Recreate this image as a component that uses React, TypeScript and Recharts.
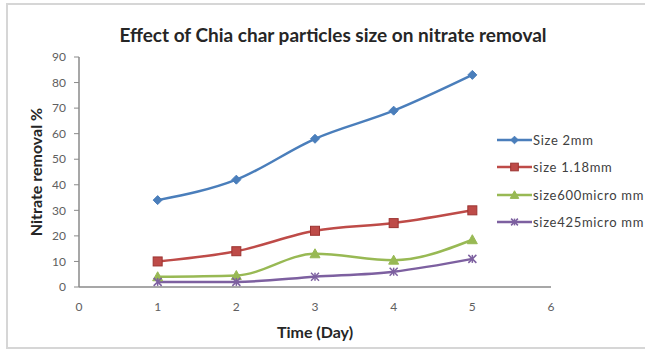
import React from "react";
import { LineChart, Line, XAxis, YAxis, Label } from "recharts";

// Days of the experiment and nitrate removal (%) for each char particle size
const days = [1, 2, 3, 4, 5];
const size2mm = [34, 42, 58, 69, 83];
const size118mm = [10, 14, 22, 25, 30];
const size600micro = [4, 4.5, 13, 10.5, 18.5];
const size425micro = [2, 2, 4, 6, 11];

const xTicks = [0, 1, 2, 3, 4, 5, 6];
const yTicks = [0, 10, 20, 30, 40, 50, 60, 70, 80, 90];

const seriesNames = ["Size 2mm", "size 1.18mm", "size600micro mm", "size425micro mm"];
const seriesColors = ["#4A7EBB", "#BE4B48", "#98B954", "#7D60A0"];
const seriesKeys = ["s2", "s118", "s600", "s425"];
const markerShapes = ["diamond", "square", "triangle", "star"];

const data = days.map((d, i) => ({
  day: d,
  s2: size2mm[i],
  s118: size118mm[i],
  s600: size600micro[i],
  s425: size425micro[i],
}));

const FONT = "Lato, 'Liberation Sans', sans-serif";

function Marker({ shape, cx, cy, color, s = 1 }: { shape: string; cx: number; cy: number; color: string; s?: number }) {
  if (shape === "diamond") {
    const r = 4.5 * s;
    return (
      <polygon
        points={`${cx},${cy - r} ${cx + r},${cy} ${cx},${cy + r} ${cx - r},${cy}`}
        fill={color}
        stroke={color}
        strokeWidth={1}
      />
    );
  }
  if (shape === "square") {
    const r = 4.5 * s;
    return <rect x={cx - r} y={cy - r} width={2 * r} height={2 * r} fill={color} stroke="#9c3330" strokeWidth={1} />;
  }
  if (shape === "triangle") {
    const r = 5 * s;
    return (
      <polygon
        points={`${cx},${cy - r} ${cx + r},${cy + r * 0.8} ${cx - r},${cy + r * 0.8}`}
        fill={color}
        stroke={color}
        strokeWidth={1}
      />
    );
  }
  const r = 4 * s;
  return (
    <g stroke={color} strokeWidth={1.5}>
      <line x1={cx - r} y1={cy - r} x2={cx + r} y2={cy + r} />
      <line x1={cx - r} y1={cy + r} x2={cx + r} y2={cy - r} />
      <line x1={cx} y1={cy - r} x2={cx} y2={cy + r} />
    </g>
  );
}

function makeDot(shape: string, color: string) {
  return (props: any) => {
    const { cx, cy, index } = props;
    if (cx == null || cy == null) return <g key={index} />;
    return (
      <g key={index}>
        <Marker shape={shape} cx={cx} cy={cy} color={color} />
      </g>
    );
  };
}

export default function App() {
  return (
    <div
      style={{
        position: "fixed",
        left: 0,
        top: 0,
        width: 645,
        height: 356,
        background: "#ffffff",
        overflow: "hidden",
        fontFamily: FONT,
      }}
    >
      <div
        style={{
          position: "absolute",
          left: 6,
          top: 3,
          width: 660,
          height: 346,
          border: "2px solid #d6d6d6",
          boxSizing: "border-box",
        }}
      />
      <div
        style={{
          position: "absolute",
          left: 0,
          width: 666,
          top: 23,
          lineHeight: "24px",
          textAlign: "center",
          fontSize: 19,
          fontWeight: 700,
          color: "#262626",
        }}
      >
        Effect of Chia char particles size on nitrate removal
      </div>
      <div style={{ position: "absolute", left: 0, top: 0 }}>
        <LineChart width={645} height={356} data={data} margin={{ top: 57, right: 94, bottom: 0, left: 0 }}>
          <XAxis
            dataKey="day"
            type="number"
            domain={[0, 6]}
            ticks={xTicks}
            interval={0}
            height={69}
            axisLine={{ stroke: "#8a8a8a", strokeWidth: 1.5 }}
            tickLine={false}
            tickSize={0}
            tickMargin={15}
            tick={{ fill: "#606060", fontSize: 12, fontFamily: FONT }}
          >
            <Label
              value="Time (Day)"
              position="center"
              dy={11}
              style={{ fontSize: 16, fontWeight: 700, fill: "#262626", fontFamily: FONT }}
            />
          </XAxis>
          <YAxis
            type="number"
            domain={[0, 90]}
            ticks={yTicks}
            interval={0}
            width={79}
            axisLine={{ stroke: "#8a8a8a", strokeWidth: 1.5 }}
            tickLine={{ stroke: "#8a8a8a" }}
            tickSize={5}
            tickMargin={8}
            tick={{ fill: "#606060", fontSize: 12, fontFamily: FONT }}
          >
            <Label
              value="Nitrate removal %"
              position="center"
              angle={-90}
              dx={-3}
              style={{ fontSize: 16, fontWeight: 700, fill: "#262626", fontFamily: FONT, textAnchor: "middle" }}
            />
          </YAxis>
          {seriesKeys.map((k, i) => (
            <Line
              key={k}
              dataKey={k}
              name={seriesNames[i]}
              type="monotone"
              stroke={seriesColors[i]}
              strokeWidth={2.5}
              dot={makeDot(markerShapes[i], seriesColors[i])}
              activeDot={false}
              isAnimationActive={false}
            />
          ))}
        </LineChart>
      </div>
      {seriesNames.map((name, i) => (
        <div
          key={name}
          style={{
            position: "absolute",
            left: 497,
            top: 132 + i * 27.4,
            height: 16,
            display: "flex",
            alignItems: "center",
            fontSize: 13,
            letterSpacing: 0.7,
            color: "#404040",
            whiteSpace: "nowrap",
          }}
        >
          <svg width={35} height={16} style={{ marginRight: 1 }}>
            <line x1={0} y1={8} x2={35} y2={8} stroke={seriesColors[i]} strokeWidth={2.5} />
            <Marker shape={markerShapes[i]} cx={17.5} cy={8} color={seriesColors[i]} s={0.85} />
          </svg>
          {name}
        </div>
      ))}
    </div>
  );
}
